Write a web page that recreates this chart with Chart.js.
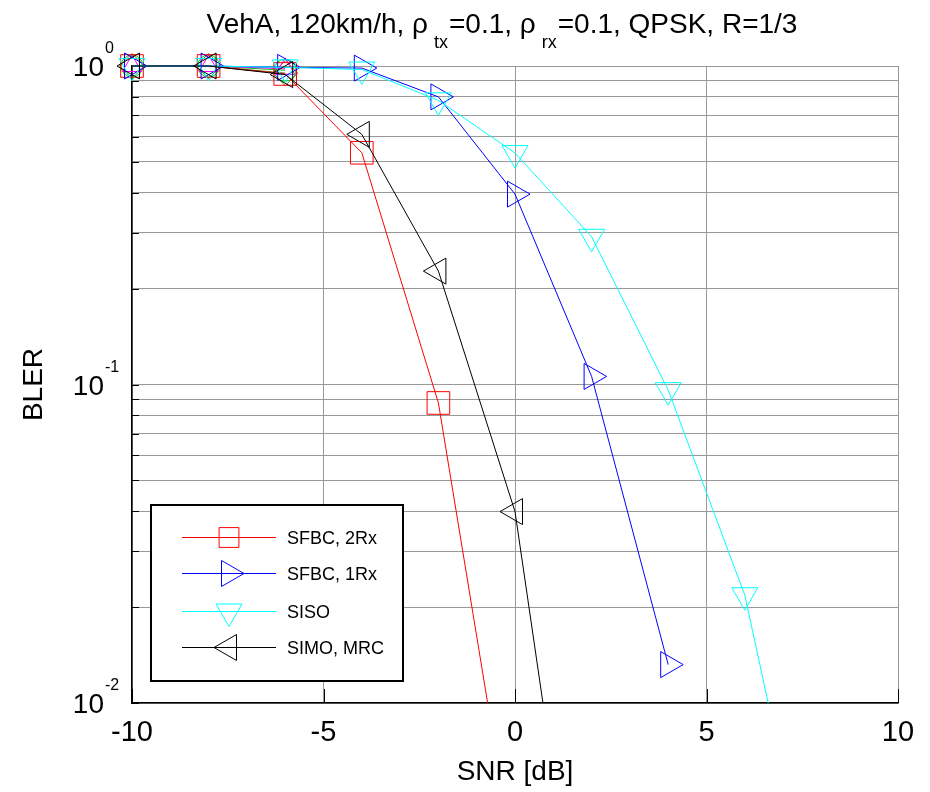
<!DOCTYPE html>
<html>
<head>
<meta charset="utf-8">
<script src="https://cdn.jsdelivr.net/npm/chart.js@4.4.1/dist/chart.umd.min.js"></script>
<style>
body{margin:0;background:#fff}
#wrap{width:930px;height:792px;position:relative}
</style>
</head>
<body>
<div id="wrap"><canvas id="bler" width="930" height="792"></canvas></div>
<script>
// SNR points (dB), BLER
const snr = [-10, -8, -6, -4, -2, 0, 2, 4, 6, 8]
const sfbc2rx = [1, 1, 0.944, 0.534, 0.0875, 0.003]
const sfbc1rx = [1, 1, 0.99, 0.985, 0.80, 0.396, 0.106, 0.0132]
const siso = [1, 1, 0.99, 0.975, 0.78, 0.533, 0.291, 0.096, 0.0218, 0.0017]
const simo = [1, 1, 0.94, 0.61, 0.227, 0.0399, 0.0009]
// markers of other runs hidden under the first points
const extraGreen = [1, 1, 0.97]
const extraOlive = [1, 1, 0.95]
const extraMagenta = [1, 1, 0.98]

const xTicks = [-10, -5, 0, 5, 10]
const yGrid = [0.01, 0.02, 0.03, 0.04, 0.05, 0.06, 0.07, 0.08, 0.09,
               0.1, 0.2, 0.3, 0.4, 0.5, 0.6, 0.7, 0.8, 0.9, 1]
const yLabelVals = [1, 0.1, 0.01]
const yLabelExp = ['0', '-1', '-2']
const titleParts = ['VehA, 120km/h, \u03c1', 'tx', '=0.1, \u03c1', 'rx', '=0.1, QPSK, R=1/3']

const FONT = 'Arial, "Liberation Sans", sans-serif'

function pts(arr){
    return arr.map((v, i) => ({x: snr[i], y: v}))
}

function series(label, arr, color, style, rot, r, order, inLegend){
    return {
        label: label,
        data: pts(arr),
        borderColor: color,
        backgroundColor: 'rgba(0,0,0,0)',
        borderWidth: 1,
        pointStyle: style,
        pointRotation: rot,
        pointRadius: r,
        pointBorderWidth: 1,
        pointBorderColor: color,
        pointBackgroundColor: 'rgba(0,0,0,0)',
        tension: 0,
        order: order,
        clip: {left: 30, top: 40, right: 0, bottom: 0},
        inLegend: inLegend
    }
}

const datasets = [
    series('extra1', extraGreen, '#00cc00', 'circle', 0, 11, 7, false),
    series('extra2', extraOlive, '#7a6418', 'rectRot', 0, 12.5, 6, false),
    series('extra3', extraMagenta, '#ff00ff', 'triangle', 0, 11, 5, false),
    series('SFBC, 2Rx', sfbc2rx, '#ff0000', 'rect', 0, 16, 3, true),
    series('SFBC, 1Rx', sfbc1rx, '#0000ff', 'triangle', 90, 15, 2, true),
    series('SISO', siso, '#00ffff', 'triangle', 180, 15, 1, true),
    series('SIMO, MRC', simo, '#000000', 'triangle', 270, 15, 0, true)
]

const decor = {
    id: 'decor',
    beforeDatasetsDraw(chart){
        const c = chart.ctx
        const xs = chart.scales.x, ys = chart.scales.y
        const area = chart.chartArea
        c.save()
        c.strokeStyle = '#000'
        c.lineWidth = 1
        c.beginPath()
        yGrid.forEach(v => {
            const py = Math.round(ys.getPixelForValue(v)) + 0.5
            c.moveTo(area.left, py)
            c.lineTo(area.left + 7, py)
        })
        xTicks.forEach(v => {
            const px = Math.round(xs.getPixelForValue(v)) + 0.5
            c.moveTo(px, area.bottom)
            c.lineTo(px, area.bottom - 14)
        })
        c.stroke()
        c.restore()
    },
    afterDraw(chart){
        const c = chart.ctx
        const ys = chart.scales.y
        c.save()
        c.fillStyle = '#000'

        // y tick labels 10^n
        yLabelVals.forEach((v, i) => {
            const py = ys.getPixelForValue(v)
            c.font = '28px ' + FONT
            c.textAlign = 'right'
            c.textBaseline = 'alphabetic'
            c.fillText('10', 104, py + 10)
            c.font = '16px ' + FONT
            c.textAlign = 'left'
            c.fillText(yLabelExp[i], 105, py - 13)
        })

        // title with subscripts
        const big = '28px ' + FONT, small = '18px ' + FONT
        let total = 0
        titleParts.forEach((t, i) => {
            c.font = i % 2 ? small : big
            total += c.measureText(t).width + (i % 2 ? 7 : 0)
        })
        let x = 502 - total / 2
        c.textAlign = 'left'
        titleParts.forEach((t, i) => {
            if (i % 2){
                c.font = small
                c.fillText(t, x + 6, 48)
                x += c.measureText(t).width + 7
            } else {
                c.font = big
                c.fillText(t, x, 33)
                x += c.measureText(t).width
            }
        })

        // legend box
        const lx = 151, ly = 505, lw = 252, lh = 176
        c.fillStyle = '#fff'
        c.fillRect(lx, ly, lw, lh)
        c.strokeStyle = '#000'
        c.lineWidth = 2
        c.strokeRect(lx, ly, lw, lh)
        const rows = [537, 573, 611, 647]
        const shown = chart.data.datasets.filter(d => d.inLegend)
        shown.forEach((d, i) => {
            const ry = rows[i] + 0.5
            c.strokeStyle = d.borderColor
            c.fillStyle = 'rgba(0,0,0,0)'
            c.lineWidth = 1
            c.beginPath()
            c.moveTo(182, ry)
            c.lineTo(276, ry)
            c.stroke()
            Chart.helpers.drawPoint(c, {
                pointStyle: d.pointStyle,
                rotation: d.pointRotation,
                radius: d.pointStyle === 'rect' ? 14 : 15,
                borderWidth: 1
            }, 229, ry)
            c.fillStyle = '#000'
            c.font = '18px ' + FONT
            c.textAlign = 'left'
            c.fillText(d.label, 287, rows[i] + 7)
        })
        c.restore()
    }
}

new Chart(document.getElementById('bler'), {
    type: 'line',
    data: {datasets: datasets},
    options: {
        responsive: false,
        animation: false,
        layout: {padding: {top: 66, right: 32, left: 0, bottom: 0}},
        plugins: {
            legend: {display: false},
            tooltip: {enabled: false},
            title: {display: false}
        },
        scales: {
            x: {
                type: 'linear',
                min: -10,
                max: 10,
                afterBuildTicks: s => { s.ticks = xTicks.map(v => ({value: v})) },
                afterFit: s => { s.height = 89 },
                grid: {color: '#999', lineWidth: 1, drawTicks: false},
                border: {color: '#000', width: 1.5},
                ticks: {color: '#000', font: {family: FONT, size: 29}, padding: 13, maxRotation: 0},
                title: {display: true, text: 'SNR [dB]', color: '#000', font: {family: FONT, size: 28}, padding: {top: 0, bottom: 3}}
            },
            y: {
                type: 'logarithmic',
                min: 0.01,
                max: 1,
                afterBuildTicks: s => { s.ticks = yGrid.map(v => ({value: v})) },
                afterFit: s => { s.width = 132 },
                grid: {color: '#999', lineWidth: 1, drawTicks: false},
                border: {color: '#000', width: 1.5},
                ticks: {display: false},
                title: {display: true, text: 'BLER', color: '#000', font: {family: FONT, size: 28}, padding: {top: 17, bottom: 0}}
            }
        }
    },
    plugins: [decor]
})
</script>
</body>
</html>
